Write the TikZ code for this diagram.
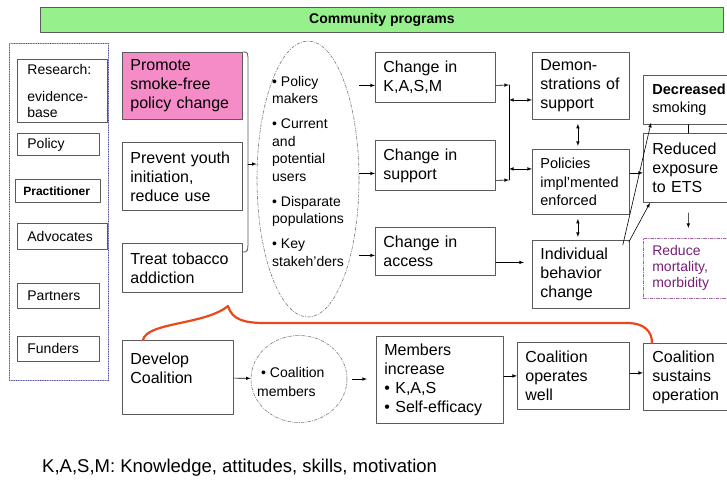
\documentclass[tikz,border=0pt]{standalone}
\usepackage{fontspec}
\setmainfont{Liberation Sans}
\usepackage{tikz}
\tikzset{>=latex}
\usetikzlibrary{shapes,arrows}
\usetikzlibrary{calc}

\definecolor{boxline}{RGB}{90,90,90}
\definecolor{bannergreen}{RGB}{150,240,140}
\definecolor{promotepink}{RGB}{245,140,200}
\definecolor{ringline}{RGB}{120,120,120}
\definecolor{groupline}{RGB}{60,60,140}
\definecolor{outcomepurple}{RGB}{120,30,120}
\definecolor{bracered}{RGB}{232,72,28}

\tikzset{
  box/.style={draw=boxline, line width=0.8pt, anchor=north west, align=left, inner xsep=8pt, font=\fontsize{16}{19}\selectfont},
  tag/.style={box, inner xsep=10pt, font=\fontsize{14}{16}\selectfont},
  ring/.style={ellipse, draw=ringline, line width=0.6pt, dash pattern=on 3pt off 1.5pt on 0.6pt off 1.5pt, inner sep=0pt},
  link/.style={->, line width=0.6pt},
  twoway/.style={<->, line width=0.6pt},
  brace/.style={draw=bracered, line width=2.2pt}
}

\begin{document}
\begin{tikzpicture}[line cap=round,line join=round,>=latex,x=1pt,y=-1pt]
	\useasboundingbox (0,0) rectangle (727,480);
	\node[draw=boxline, fill=bannergreen, line width=0.8pt, anchor=north west, minimum width=683pt, minimum height=25pt, font=\bfseries\fontsize{14}{17}\selectfont] (banner) at (40,7) {Community programs};

	% who is involved
	\node[draw=groupline, line width=1.3pt, dash pattern=on 0.01pt off 1.7pt, anchor=north west, minimum width=99pt, minimum height=337pt] (actors) at (9,43) {};
	\node[tag, text width=70pt, minimum height=63pt] (research) at (17,59) {Research:\\[11pt]evidence-\\base};
	\node[tag, text width=62pt, minimum height=22pt] (policy) at (17,133) {Policy};
	\node[tag, inner xsep=8pt, text width=69pt, minimum height=23pt, font=\bfseries\fontsize{12}{14}\selectfont] (practitioner) at (15,179) {Practitioner};
	\node[tag, text width=70pt, minimum height=26pt] (advocates) at (17,223) {Advocates};
	\node[tag, text width=62pt, minimum height=25pt] (partners) at (17,283) {Partners};
	\node[tag, text width=62pt, minimum height=25pt] (funders) at (17,336) {Funders};

	% programs
	\node[box, fill=promotepink, text width=104pt, minimum height=67pt] (promote) at (122,52) {Promote\\smoke-free\\policy change};
	\node[box, text width=104pt, minimum height=68pt] (prevent) at (122,142) {Prevent youth\\initiation,\\reduce use};
	\node[box, text width=104pt, minimum height=49pt] (treat) at (122,243) {Treat tobacco\\addiction};
	\draw[boxline, line width=0.8pt] (promote.north east) .. controls (248,52) .. (248,63) -- (248,237) .. controls (248,252) .. ([yshift=-9pt]treat.north east);
	\coordinate (bracketmid) at (248,164);

	% target groups
	\node[ring, minimum width=102pt, minimum height=276pt] (targets) at (308,179) {};
	\node[anchor=west, align=left, inner sep=0pt, font=\fontsize{14}{17.5}\selectfont] (targetlist) at (272,171) {\textbullet\ Policy\\makers\\[7.5pt]\textbullet\ Current\\and\\potential\\users\\[7.5pt]\textbullet\ Disparate\\populations\\[7.5pt]\textbullet\ Key\\stakeh'ders};
	\draw[link] (bracketmid) -- (targets.west |- bracketmid);

	% short term changes
	\node[box, text width=104pt, minimum height=50pt] (kasm) at (375,52) {Change in\\K,A,S,M};
	\node[box, text width=104pt, minimum height=50pt] (support) at (375,140) {Change in\\support};
	\node[box, text width=104pt, minimum height=48pt] (access) at (375,227) {Change in\\access};
	\draw[link] ([yshift=-8pt]kasm.west -| targets.east) -- ([yshift=-8pt]kasm.west);
	\draw[link] ([yshift=-8pt]support.west -| targets.east) -- ([yshift=-8pt]support.west);
	\draw[link] ([yshift=-4pt]access.west -| targets.east) -- ([yshift=-4pt]access.west);

	% intermediate outcomes
	\node[box, text width=81pt, minimum height=67pt] (demo) at (532,52) {Demon-\\strations of\\support};
	\node[box, text width=81pt, minimum height=65pt, font=\fontsize{14.5}{18.5}\selectfont] (policies) at (532,149) {Policies\\impl'mented\\enforced};
	\node[box, text width=81pt, minimum height=68pt] (ibc) at (532,240) {Individual\\behavior\\change};
	\coordinate (bustop) at (509,85);
	\coordinate (busbot) at (509,180);
	\draw[link] ([yshift=-8pt]kasm.east) -- (bustop);
	\draw[link] ([yshift=-15pt]support.east) -- (busbot);
	\draw[line width=0.6pt] (bustop) -- (busbot);
	\draw[twoway] ([yshift=-14pt]demo.west -| bustop) -- ([yshift=-14pt]demo.west);
	\draw[twoway] ([yshift=13pt]policies.west -| bustop) -- ([yshift=13pt]policies.west);
	\draw[twoway, shorten <=4pt, shorten >=3pt] ([xshift=-3pt]demo.south) -- ([xshift=-3pt]policies.north);
	\draw[twoway, shorten <=4pt, shorten >=3pt] ([xshift=-3pt]policies.south) -- ([xshift=-3pt]ibc.north);
	\draw[link, shorten >=8pt] ([yshift=-11pt]access.east) -- ([yshift=-11pt]access.east -| ibc.west);

	% long term outcomes
	\node[box, inner xsep=9pt, text width=76pt, minimum height=49pt, font=\fontsize{14.5}{18}\selectfont] (decreased) at (643,75) {\textbf{Decreased}\\smoking};
	\node[box, inner xsep=9pt, text width=76pt, minimum height=69pt] (reduced) at (643,133) {Reduced\\exposure\\to ETS};
	\node[box, inner xsep=9pt, text width=76pt, minimum height=60pt, draw=outcomepurple!70, dash pattern=on 3pt off 1.5pt on 0.6pt off 1.5pt, line width=0.6pt, text=outcomepurple, font=\fontsize{14}{16}\selectfont] (mortality) at (643,238) {Reduce\\mortality,\\morbidity};
	\draw[line width=0.6pt] ([xshift=-2pt]decreased.south) -- ([xshift=-2pt]reduced.north);
	\draw[link] ([yshift=9pt]policies.east) -- ([yshift=9pt]policies.east -| reduced.west);
	\draw[link] ([xshift=-7pt,yshift=-5pt]ibc.north east) -- ([xshift=8pt,yshift=2pt]decreased.south west);
	\draw[link] ([xshift=-1pt,yshift=-2pt]ibc.north east) -- ([xshift=7pt]reduced.south west);
	\draw[link, shorten <=10pt, shorten >=10pt] ([xshift=-2pt]reduced.south) -- ([xshift=-2pt]mortality.north);

	% coalition
	\node[box, text width=95pt, minimum height=74pt] (develop) at (122,340) {Develop\\Coalition\\~};
	\node[ring, minimum width=96pt, minimum height=87pt] (coalring) at (299,379) {};
	\node[anchor=west, align=left, inner sep=0pt, font=\fontsize{14}{19}\selectfont] (memberlist) at (257,382) {\hspace*{4pt}\textbullet\ Coalition\\members};
	\node[box, text width=111pt, minimum height=87pt] (members) at (376,336) {Members\\increase\\\textbullet\ K,A,S\\\textbullet\ Self-efficacy};
	\node[box, text width=96pt, minimum height=67pt] (operates) at (517,342) {Coalition\\operates\\well};
	\node[box, inner xsep=9pt, text width=76pt, minimum height=67pt] (sustains) at (643,343) {Coalition\\sustains\\operation};
	\draw[link] (develop) -- (coalring);
	\draw[link, shorten <=5pt, shorten >=9pt] (coalring.east) -- (coalring.east -| members.west);
	\draw[link] (members.east |- operates.west) -- (operates.west);
	\draw[link] ([yshift=3pt]operates.east) -- ([yshift=3pt]operates.east -| sustains.west);
	\draw[brace] ([xshift=21pt]develop.north west) .. controls (147,322) and (205,325) .. (228,306) .. controls (232,320) and (245,323) .. (265,323) -- (627,323) .. controls (645,323) and (652,332) .. ([xshift=9pt]sustains.north west);

	\node[anchor=west, inner sep=0pt, font=\fontsize{18.5}{22}\selectfont] (legend) at (42,468) {K,A,S,M: Knowledge, attitudes, skills, motivation};
\end{tikzpicture}
\end{document}
